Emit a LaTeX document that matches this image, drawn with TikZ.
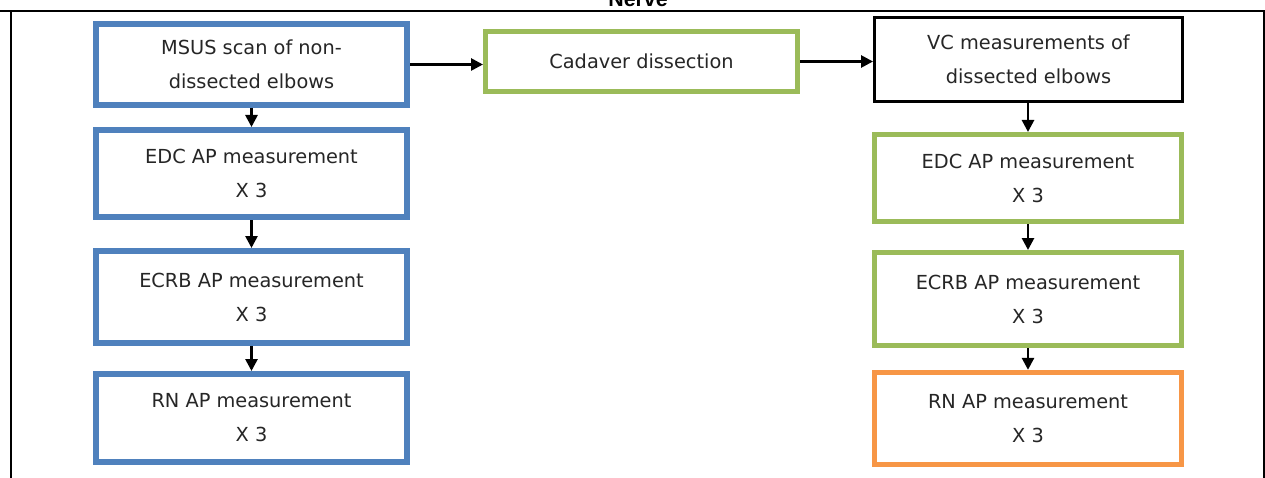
\documentclass[tikz,border=0pt]{standalone}
\usepackage{fontspec}
\setmainfont{DejaVu Sans}
\newfontfamily\titlefont{Liberation Sans}
\usetikzlibrary{arrows.meta}
\definecolor{boxblue}{HTML}{4F81BD}
\definecolor{boxgreen}{HTML}{9BBB59}
\definecolor{boxorange}{HTML}{F79646}
\definecolor{txt}{HTML}{262626}
\tikzset{
  box/.style={draw, rectangle, fill=white, align=center, text=txt,
    font={\fontsize{14.5}{25.5}\selectfont}, inner sep=0pt},
  bluebox/.style={box, draw=boxblue, line width=4.5pt},
  greenbox/.style={box, draw=boxgreen, line width=3.75pt},
  orangebox/.style={box, draw=boxorange, line width=4pt},
  blackbox/.style={box, draw=black, line width=2.2pt},
  arr/.style={-{Triangle[length=9pt,width=9pt]}, line width=2pt, black},
  frame/.style={line width=1.8pt, black},
}
\begin{document}
\begin{tikzpicture}[x=0.75pt,y=-0.75pt]
\useasboundingbox (0,0) rectangle (1265,478);
\clip (0,0) rectangle (1265,478);
% frame
\draw[frame] (0,11) -- (1265,11);
\draw[frame] (11,11) -- (11,478);
\draw[frame] (1264,11) -- (1264,478);
\node[font={\titlefont\bfseries\fontsize{16}{18}\selectfont}, anchor=base] (title) at (638,7) {Nerve};
% left column
\node[bluebox, minimum width={311*0.75pt}, minimum height={81*0.75pt}] (b1) at (251.5,64.5) {MSUS scan of non-\\dissected elbows};
\node[bluebox, minimum width={311*0.75pt}, minimum height={87*0.75pt}] (b2) at (251.5,173.5) {EDC AP measurement\\X 3};
\node[bluebox, minimum width={311*0.75pt}, minimum height={92*0.75pt}] (b3) at (251.5,297) {ECRB AP measurement\\X 3};
\node[bluebox, minimum width={311*0.75pt}, minimum height={88*0.75pt}] (b4) at (251.5,418) {RN AP measurement\\X 3};
% middle
\node[greenbox, minimum width={312*0.75pt}, minimum height={60*0.75pt}] (cad) at (641.5,61.5) {Cadaver dissection};
% right column
\node[blackbox, minimum width={308*0.75pt}, minimum height={84*0.75pt}] (vc) at (1028.5,59.5) {VC measurements of\\dissected elbows};
\node[greenbox, minimum width={307*0.75pt}, minimum height={87*0.75pt}] (r2) at (1028,178) {EDC AP measurement\\X 3};
\node[greenbox, minimum width={307*0.75pt}, minimum height={93*0.75pt}] (r3) at (1028,299) {ECRB AP measurement\\X 3};
\node[orangebox, minimum width={307*0.75pt}, minimum height={92*0.75pt}] (r4) at (1028,418.5) {RN AP measurement\\X 3};
% arrows
\draw[arr] (b1.east) -- (b1.east -| cad.west);
\draw[arr] (cad.east) -- (cad.east -| vc.west);
\draw[arr] (b1) -- (b2);
\draw[arr] (b2) -- (b3);
\draw[arr] (b3) -- (b4);
\draw[arr] (vc.south -| r2.north) -- (r2.north);
\draw[arr] (r2) -- (r3);
\draw[arr] (r3) -- (r4);
\end{tikzpicture}
\end{document}
